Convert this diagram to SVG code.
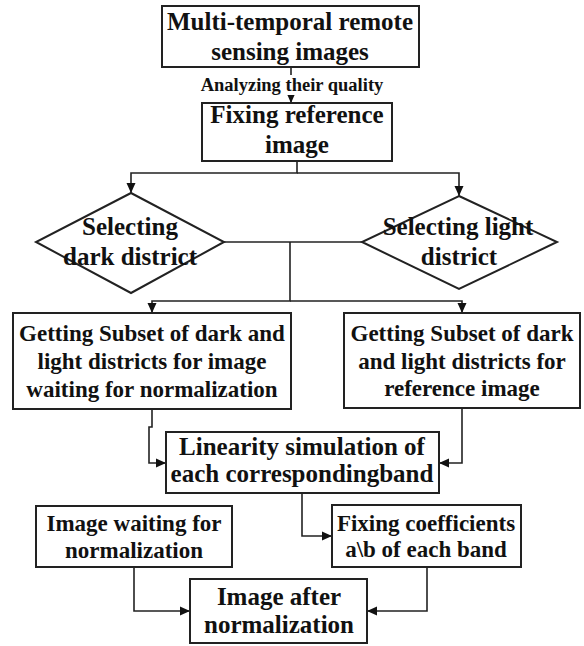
<svg xmlns="http://www.w3.org/2000/svg" width="584" height="646" viewBox="0 0 584 646">
<defs>
<marker id="arr" markerUnits="userSpaceOnUse" markerWidth="10" markerHeight="10" refX="10" refY="5" orient="auto">
<path d="M0,0.5 L10,5 L0,9.5 z" fill="#111"/>
</marker>
<style>
.box{fill:#fff;stroke:#222;stroke-width:2}
.t{font-family:"Liberation Serif","Times New Roman",serif;font-weight:bold;fill:#111;text-anchor:middle}
.l{font-size:25px}
.m{font-size:23px}
.s{font-size:18.5px}
.c{fill:none;stroke:#222;stroke-width:1.6}
.a{marker-end:url(#arr)}
</style>
</defs>
<rect width="584" height="646" fill="#fff"/>
<g id="connectors">
<path class="c a" d="M291,67 V103"/>
<rect x="197" y="75" width="190" height="20" fill="#fff"/>
<text class="t s" x="292" y="91">Analyzing their quality</text>
<path class="c a" d="M297,161 V173 H131 V193"/>
<path class="c a" d="M297,173 H459 V196"/>
<path class="c" d="M224,242 H362"/>
<path class="c a" d="M290,242 V301 H152 V313"/>
<path class="c a" d="M290,301 H462 V313"/>
<path class="c a" d="M152,409 V427 H149 V463 H166"/>
<path class="c a" d="M462,408 V463 H439"/>
<path class="c a" d="M302,493 V536 H332"/>
<path class="c a" d="M134,567 V611 H190"/>
<path class="c a" d="M427,567 V611 H367"/>
</g>
<g id="multi-temporal">
<rect class="box" x="162" y="6" width="257" height="61"/>
<text class="t l" x="290" y="30">Multi-temporal remote</text>
<text class="t l" x="290" y="60">sensing images</text>
</g>
<g id="fixing-reference">
<rect class="box" x="202" y="103" width="190" height="58"/>
<text class="t l" x="297" y="123">Fixing reference</text>
<text class="t l" x="297" y="153">image</text>
</g>
<g id="dark-district">
<polygon class="box" points="131,193 224,242 131,293 36,242"/>
<text class="t l" x="130" y="235">Selecting</text>
<text class="t l" x="130" y="265">dark district</text>
</g>
<g id="light-district">
<polygon class="box" points="459,196 557,242 459,289 362,242"/>
<text class="t l" x="458" y="235">Selecting light</text>
<text class="t l" x="459" y="265">district</text>
</g>
<g id="subset-waiting">
<rect class="box" x="13" y="313" width="278" height="96"/>
<text class="t m" x="152" y="341">Getting Subset of dark and</text>
<text class="t m" x="152" y="369">light districts for image</text>
<text class="t m" x="152" y="397">waiting for normalization</text>
</g>
<g id="subset-reference">
<rect class="box" x="344" y="313" width="236" height="95"/>
<text class="t m" x="462" y="341">Getting Subset of dark</text>
<text class="t m" x="462" y="369">and light districts for</text>
<text class="t m" x="462" y="396">reference image</text>
</g>
<g id="linearity">
<rect class="box" x="166" y="432" width="273" height="61"/>
<text class="t l" x="302" y="455">Linearity simulation of</text>
<text class="t l" x="302" y="482">each correspondingband</text>
</g>
<g id="image-waiting">
<rect class="box" x="36" y="506" width="196" height="61"/>
<text class="t m" x="134" y="531">Image waiting for</text>
<text class="t m" x="134" y="558">normalization</text>
</g>
<g id="fixing-coefficients">
<rect class="box" x="332" y="505" width="189" height="62"/>
<text class="t m" x="426" y="531">Fixing coefficients</text>
<text class="t m" x="426" y="557">a\b of each band</text>
</g>
<g id="image-after">
<rect class="box" x="190" y="579" width="177" height="64"/>
<text class="t l" x="279" y="605">Image after</text>
<text class="t l" x="279" y="633">normalization</text>
</g>
</svg>
